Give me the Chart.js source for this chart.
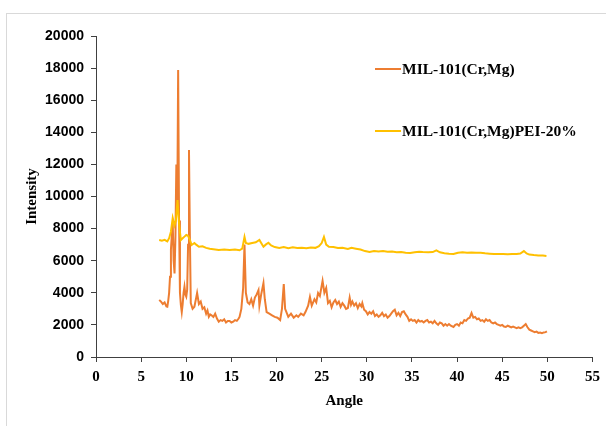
<!DOCTYPE html>
<html>
<head>
<meta charset="utf-8">
<script src="https://cdn.jsdelivr.net/npm/chart.js@4.4.1/dist/chart.umd.min.js"></script>
<style>
  html, body { margin: 0; padding: 0; background: #fff; overflow: hidden; }
  .frame {
    position: absolute; left: 6px; top: 13px; width: 640px; height: 440px;
    border: 1px solid #d9d9d9; box-sizing: border-box;
  }
  #xrd { position: absolute; left: 0; top: 0; }
</style>
</head>
<body>
<div class="frame"></div>
<canvas id="xrd" width="606" height="426"></canvas>
<script>
// series names
const seriesNames = ['MIL-101(Cr,Mg)', 'MIL-101(Cr,Mg)PEI-20%'];

// MIL-101(Cr,Mg) - angle (2theta) and intensity
const bareAngle = [
  7.0, 7.2, 7.4, 7.6, 7.8, 7.9, 8.0, 8.1, 8.2, 8.3,
  8.4, 8.5, 8.6, 8.7, 8.8, 8.9, 9.0, 9.1, 9.2, 9.3,
  9.4, 9.5, 9.6, 9.7, 9.8, 9.9, 10.0, 10.1, 10.2, 10.3,
  10.4, 10.5, 10.7, 10.9, 11.1, 11.2, 11.4, 11.6, 11.8, 12.0,
  12.2, 12.35, 12.5, 12.65, 12.8, 13.0, 13.2, 13.4, 13.6, 13.8,
  14.0, 14.2, 14.4, 14.6, 14.8, 15.0, 15.2, 15.4, 15.6, 15.8,
  15.9, 16.1, 16.3, 16.45, 16.6, 16.8, 17.0, 17.2, 17.4, 17.6,
  17.8, 18.0, 18.1, 18.3, 18.55, 18.7, 18.9, 19.2, 19.5, 19.8,
  20.1, 20.4, 20.6, 20.8, 20.95, 21.3, 21.6, 21.9, 22.2, 22.4,
  22.7, 23.0, 23.2, 23.5, 23.7, 23.9, 24.2, 24.4, 24.6, 24.8,
  25.1, 25.3, 25.5, 25.7, 25.9,
  26.1, 26.3, 26.5, 26.7, 26.9, 27.1, 27.3, 27.5, 27.7, 27.9,
  28.1, 28.25, 28.4, 28.6, 28.8, 29.0, 29.2, 29.4, 29.5, 29.7,
  29.9, 30.1, 30.3, 30.5, 30.7, 30.9, 31.1, 31.3, 31.5, 31.7,
  31.9, 32.1, 32.3, 32.5, 32.7, 32.9, 33.1, 33.3, 33.5, 33.7,
  33.9, 34.1, 34.3, 34.5, 34.7, 34.9, 35.1, 35.3, 35.5, 35.7,
  35.9, 36.1, 36.3, 36.5, 36.7, 36.9, 37.1, 37.3, 37.5, 37.7,
  37.9, 38.1, 38.3, 38.5, 38.7, 38.9, 39.1, 39.3, 39.6, 39.8,
  40.0, 40.2, 40.4, 40.6, 40.8, 41.0, 41.2, 41.4, 41.6, 41.8,
  42.0, 42.2, 42.4, 42.6, 42.8, 43.0, 43.2, 43.4, 43.6, 43.8,
  44.0, 44.2, 44.4, 44.6, 44.8, 45.0, 45.2, 45.4, 45.6, 45.8,
  46.0, 46.2, 46.4, 46.6, 46.8, 47.0, 47.2, 47.4, 47.6, 47.8,
  48.0, 48.2, 48.4, 48.6, 48.8, 49.0, 49.2, 49.4, 49.6, 49.8,
  49.95
];
const bareIntensity = [
  3550, 3450, 3300, 3400, 3150, 3130, 3500, 4000, 5000, 6700,
  7600, 8300, 6000, 5200, 7500, 12000, 9000, 17880, 8500, 4000,
  3240, 2800, 3300, 4000, 4380, 3900, 3760, 4200, 7000, 12900,
  7500, 3360, 3000, 3130, 3700, 3990, 3300, 3450, 3000, 3100,
  2700, 2900, 2510, 2650, 2600, 2500, 2700, 2400, 2200, 2300,
  2250, 2350, 2150, 2250, 2250, 2150, 2200, 2300, 2250, 2400,
  2500, 3000, 4300, 7000, 4000, 3400, 3300, 3600, 3200, 3700,
  3900, 4170, 3200, 3900, 4600, 3600, 2800, 2700, 2600, 2500,
  2450, 2300, 3000, 4550, 3000, 2500, 2700, 2450, 2600, 2500,
  2700, 2600, 2800, 3200, 3740, 3200, 3600, 3400, 3990, 3800,
  4740, 4000, 4300, 3360, 3500,
  3100, 3400, 3550, 3300, 3450, 3120, 3350, 3200, 3000, 3050,
  3700, 3250, 3450, 3200, 3350, 3050, 3300, 3150, 3360, 2950,
  2850, 2650, 2800, 2700, 2850, 2550, 2650, 2500, 2600, 2750,
  2550, 2650, 2450, 2550, 2700, 2850, 2950, 2600, 2750, 2550,
  2800, 2850, 2650, 2500, 2250, 2350, 2250, 2300, 2150, 2300,
  2200, 2250, 2150, 2250, 2300, 2150, 2200, 2100, 2250, 2100,
  2000, 2150, 2100, 1950, 2050, 1950, 2050, 1950, 1870, 2000,
  2050, 1950, 2150, 2100, 2300, 2250, 2400, 2450, 2740, 2450,
  2500, 2350, 2400, 2250, 2300, 2200, 2350, 2250, 2300, 2150,
  2100, 2150, 2050, 2000, 1950, 2000, 1900, 1870, 1950, 1900,
  1850, 1900, 1850, 1800, 1850, 1800, 1850, 1950, 2050, 1850,
  1700, 1650, 1600, 1550, 1580, 1500, 1520, 1480, 1530, 1550,
  1600
];

// MIL-101(Cr,Mg)PEI-20%
const peiAngle = [
  7.0, 7.3, 7.6, 7.9, 8.1, 8.3, 8.5, 8.7, 8.85, 9.03, 9.2, 9.4, 9.6, 9.8, 10.0,
  10.2, 10.4, 10.6, 10.9, 11.1, 11.4, 11.8, 12.2, 12.6, 13.0, 13.6, 14.2, 14.8,
  15.4, 15.9, 16.2, 16.45, 16.6, 16.9, 17.3, 17.7, 18.1, 18.3, 18.55, 18.8, 19.1,
  19.4, 19.8, 20.3, 20.8, 21.3, 21.8, 22.3, 22.8, 23.3, 23.8, 24.3, 24.7, 25.0,
  25.25, 25.5, 25.8, 26.3, 26.8, 27.3, 27.9, 28.3, 28.8, 29.3, 29.8, 30.3, 30.8,
  31.3, 31.8, 32.3, 32.8, 33.3, 33.8, 34.3, 34.8, 35.3, 35.8, 36.2, 36.8, 37.3,
  37.7, 38.1, 38.6, 39.1, 39.6, 40.1, 40.6, 41.1, 41.6, 42.1, 42.6, 43.1, 43.6,
  44.1, 44.6, 45.1, 45.6, 46.1, 46.6, 47.0, 47.4, 47.7, 48.0, 48.5, 49.0, 49.5,
  49.9
];
const peiIntensity = [
  7290, 7250, 7300, 7200, 7400, 7810, 8660, 8200, 8500, 9780, 8300, 7290, 7400, 7500, 7600,
  7550, 7300, 6980, 7100, 7000, 6870, 6900, 6800, 6750, 6720, 6670, 6690, 6660,
  6700, 6650, 6750, 7480, 7100, 7050, 7100, 7150, 7290, 7100, 6870, 7000, 7120,
  6950, 6850, 6800, 6850, 6780, 6830, 6790, 6800, 6770, 6820, 6800, 6900, 7100,
  7480, 7000, 6870, 6850, 6790, 6800, 6730, 6800, 6750, 6700, 6600, 6540, 6600,
  6570, 6600, 6560, 6580, 6530, 6540, 6500, 6480, 6520, 6560, 6540, 6520, 6540,
  6650, 6520, 6470, 6440, 6420, 6500, 6520, 6500, 6510, 6490, 6500, 6460, 6440,
  6420, 6410, 6420, 6400, 6410, 6420, 6450, 6600, 6450, 6380, 6350, 6330, 6320,
  6300
];

const toPoints = (xs, ys) => xs.map((x, i) => ({ x: x, y: ys[i] }));

const axisColor = '#404040';
const serif = '"Liberation Serif", "Times New Roman", serif';

// legend drawn inside the plot, like the original
const innerLegend = {
  id: 'innerLegend',
  afterDraw(chart) {
    const ctx = chart.ctx;
    const rows = [69, 131];
    ctx.save();
    chart.data.datasets.forEach((ds, i) => {
      const y = rows[i];
      ctx.strokeStyle = ds.borderColor;
      ctx.lineWidth = 2;
      ctx.beginPath();
      ctx.moveTo(375, y);
      ctx.lineTo(401, y);
      ctx.stroke();
      ctx.fillStyle = '#000';
      ctx.font = 'bold 15.5px ' + serif;
      ctx.textBaseline = 'middle';
      ctx.textAlign = 'left';
      ctx.fillText(ds.label, 402, y + 1);
    });
    ctx.restore();
  }
};

new Chart(document.getElementById('xrd'), {
  type: 'scatter',
  data: {
    datasets: [
      {
        label: seriesNames[0],
        data: toPoints(bareAngle, bareIntensity),
        borderColor: '#ED7D31',
        backgroundColor: '#ED7D31',
        showLine: true,
        borderWidth: 2,
        pointRadius: 0,
        order: 1,
      },
      {
        label: seriesNames[1],
        data: toPoints(peiAngle, peiIntensity),
        borderColor: '#FFC000',
        backgroundColor: '#FFC000',
        showLine: true,
        borderWidth: 2,
        pointRadius: 0,
        order: 0,
      },
    ],
  },
  options: {
    responsive: false,
    animation: false,
    layout: { padding: { left: 0, top: 36, right: 9, bottom: 0 } },
    plugins: {
      legend: { display: false },
      tooltip: { enabled: false },
    },
    scales: {
      x: {
        type: 'linear',
        min: 0,
        max: 55,
        afterFit: (s) => { s.height = 69; },
        ticks: {
          stepSize: 5,
          color: '#000',
          padding: 6,
          font: { family: serif, size: 15, weight: 'bold' },
        },
        grid: { drawOnChartArea: false, drawTicks: true, tickLength: 5, color: axisColor },
        border: { display: true, color: axisColor, width: 1 },
        title: {
          display: true,
          text: 'Angle',
          color: '#000',
          font: { family: serif, size: 15, weight: 'bold' },
          padding: { top: 0, bottom: 16 },
        },
      },
      y: {
        min: 0,
        max: 20000,
        afterFit: (s) => { s.width = 96; },
        ticks: {
          stepSize: 2000,
          color: '#000',
          padding: 7,
          callback: (v) => String(v),
          font: { family: '"Liberation Sans", Arial, sans-serif', size: 14, weight: 'bold' },
        },
        grid: { drawOnChartArea: false, drawTicks: true, tickLength: 5, color: axisColor },
        border: { display: true, color: axisColor, width: 1 },
        title: {
          display: true,
          text: 'Intensity',
          color: '#000',
          font: { family: serif, size: 15, weight: 'bold' },
          padding: { top: 23, bottom: 0 },
        },
      },
    },
  },
  plugins: [innerLegend],
});
</script>
</body>
</html>
